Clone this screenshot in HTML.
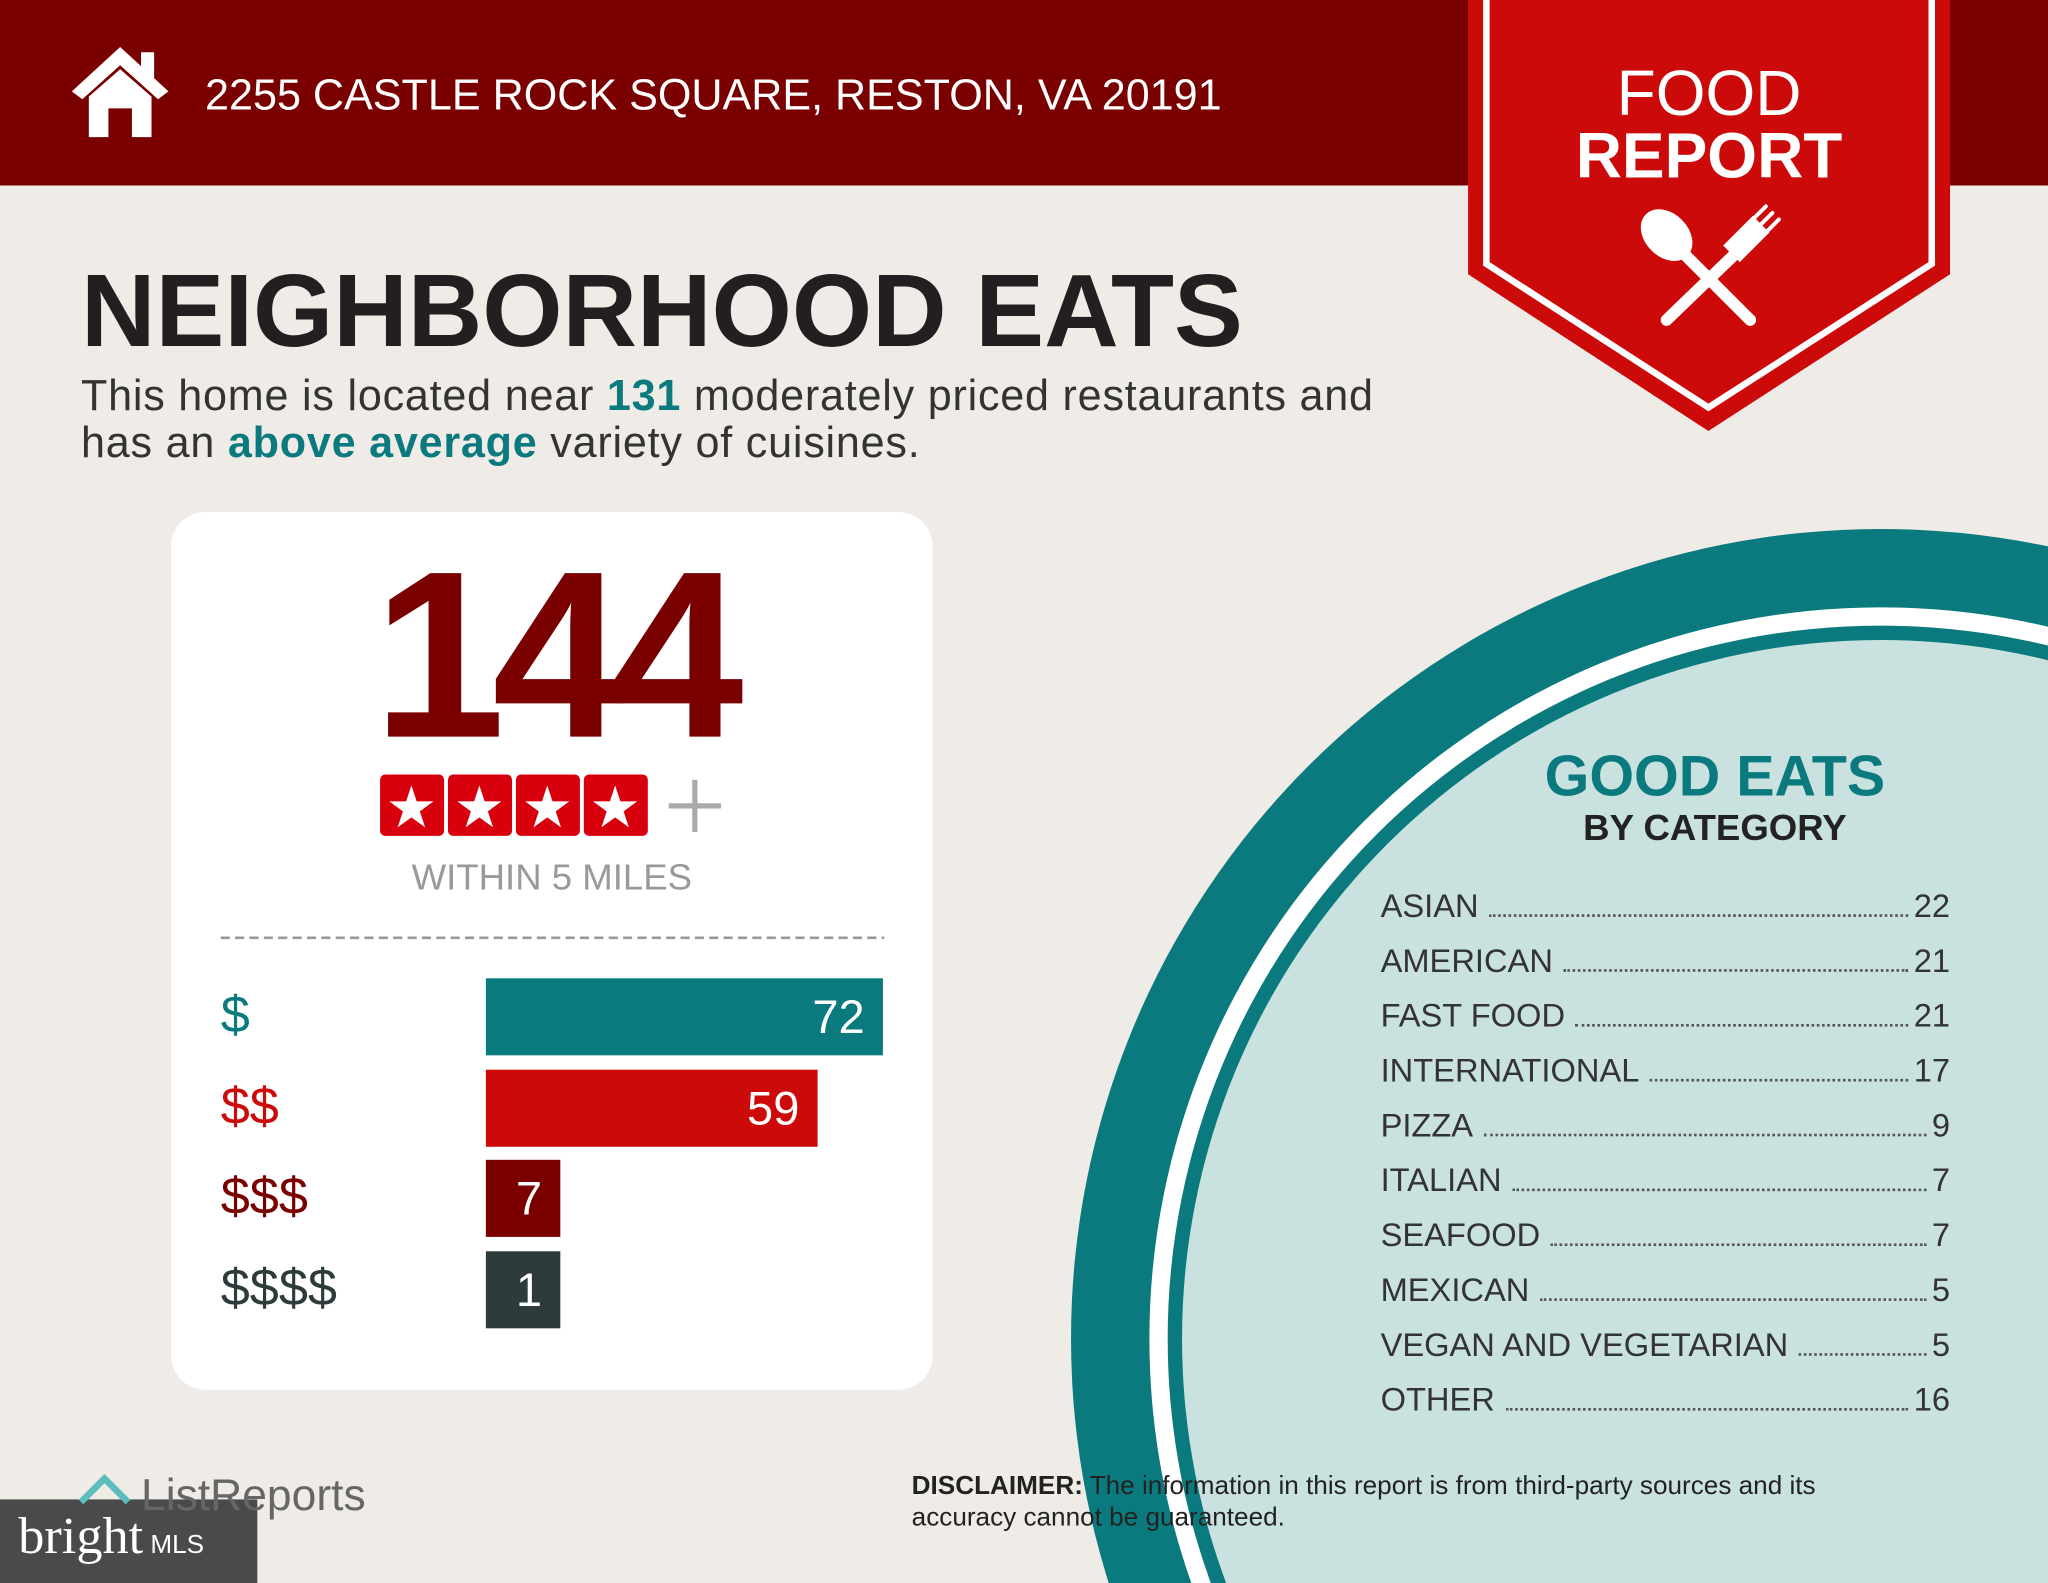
<!DOCTYPE html>
<html><head><meta charset="utf-8"><style>
html,body{margin:0;padding:0;background:#efebe7;overflow:hidden;width:2048px;height:1583px}
#w{width:1568px;height:1212px;position:absolute;left:0;top:0;transform:scale(1.30612);transform-origin:0 0;font-family:"Liberation Sans",sans-serif;overflow:hidden;background:#efebe7}
.a{position:absolute;white-space:nowrap}
.row{position:absolute;left:1057px;width:436px;font-size:25px;color:#333;display:flex;align-items:baseline}
.row .d{flex:1;border-bottom:2px dotted #555;margin:0 4px 0 8px;height:1px}
.bar{position:absolute;left:372px;height:59px;color:#fff;font-size:36px;text-align:right;line-height:59px;box-sizing:border-box;padding-right:14px}
.lab{position:absolute;left:169px;font-size:40px}
</style></head><body><div id="w">
<svg class="a" style="left:0;top:0" width="1568" height="1212">
<circle cx="1440" cy="1025" r="620" fill="#0b7a7e"/>
<circle cx="1440" cy="1025" r="560" fill="#fff"/>
<circle cx="1440" cy="1025" r="546" fill="#0b7a7e"/>
<circle cx="1440" cy="1025" r="535" fill="#c9e1df"/>
<rect x="0" y="0" width="1568" height="142" fill="#7a0000"/>
<polygon points="1124,0 1493,0 1493,210 1308,330 1124,210" fill="#cc0a0a"/>
<polygon points="1138,-5 1479,-5 1479,202 1308,312 1138,202" fill="none" stroke="#fff" stroke-width="5"/>
<g stroke="#fff" stroke-linecap="round" fill="#fff">
<line x1="1285" y1="190" x2="1340" y2="245" stroke-width="9"/>
<ellipse cx="1276" cy="180" rx="16" ry="22" transform="rotate(-45 1276 180)"/>
<line x1="1333" y1="190" x2="1276" y2="245" stroke-width="9"/>
<path d="M1320 188 L1342 166 L1354 178 L1332 200 Z"/>
<line x1="1340" y1="170" x2="1352" y2="158" stroke-width="3"/>
<line x1="1345" y1="175" x2="1357" y2="163" stroke-width="3"/>
<line x1="1350" y1="180" x2="1362" y2="168" stroke-width="3"/>
</g>
<polygon points="92,36 55,70 63,76 92,50 121,76 129,70" fill="#fff"/>
<rect x="108" y="40" width="10" height="20" fill="#fff"/>
<polygon points="68,74 92,53 116,74 116,105 101,105 101,83 83,83 83,105 68,105" fill="#fff"/>
<rect x="131" y="392" width="583" height="672" rx="26" fill="#fff"/>
<line x1="169" y1="718" x2="677" y2="718" stroke="#999" stroke-width="2" stroke-dasharray="7,4"/>
<g fill="#d9000d"><rect x="291" y="593" width="49" height="47" rx="4"/><rect x="343" y="593" width="49" height="47" rx="4"/><rect x="395" y="593" width="49" height="47" rx="4"/><rect x="447" y="593" width="49" height="47" rx="4"/></g>
<g fill="#fff" font-size="44" font-family="DejaVu Sans" text-anchor="middle"><text x="315" y="633">★</text><text x="367" y="633">★</text><text x="419" y="633">★</text><text x="471" y="633">★</text></g>
<g stroke="#aaa" stroke-width="4"><line x1="532" y1="597" x2="532" y2="637"/><line x1="512" y1="617" x2="552" y2="617"/></g>
<rect x="0" y="1148" width="197" height="64" fill="#4a4a4a"/>
<path d="M62 1150 L80 1132 L98 1150" fill="none" stroke="#5bbdbd" stroke-width="5"/>
</svg>
<div class="a" style="left:157px;top:54px;font-size:33px;color:#fff">2255 CASTLE ROCK SQUARE, RESTON, VA 20191</div>
<div class="a" style="left:1124px;width:369px;text-align:center;top:48px;font-size:49px;line-height:48px;color:#fff">FOOD<br><b>REPORT</b></div>
<div class="a" style="left:62px;top:192px;font-size:79px;font-weight:bold;color:#231f20">NEIGHBORHOOD EATS</div>
<div class="a" style="left:62px;top:285px;font-size:33px;line-height:36px;color:#333;letter-spacing:0.6px">This home is located near <b style="color:#0b7a7e">131</b> moderately priced restaurants and<br>has an <b style="color:#0b7a7e">above average</b> variety of cuisines.</div>
<div class="a" style="left:131px;width:583px;text-align:center;top:396px;font-size:182px;font-weight:bold;color:#7a0000;letter-spacing:-10px">144</div>
<div class="a" style="left:131px;width:583px;text-align:center;top:656px;font-size:28px;color:#999">WITHIN 5 MILES</div>
<div class="lab" style="top:755px;color:#0b7a7e">$</div>
<div class="lab" style="top:825px;color:#cc0a0a">$$</div>
<div class="lab" style="top:894px;color:#7a0000">$$$</div>
<div class="lab" style="top:964px;color:#2e3b3b">$$$$</div>
<div class="bar" style="top:749px;width:304px;background:#0b7a7e">72</div>
<div class="bar" style="top:819px;width:254px;background:#cc0a0a">59</div>
<div class="bar" style="top:888px;width:57px;background:#7a0000">7</div>
<div class="bar" style="top:958px;width:57px;background:#2e3b3b">1</div>
<div class="a" style="left:1113px;width:400px;text-align:center;top:570px;font-size:44px;font-weight:bold;color:#0b7a7e">GOOD EATS</div>
<div class="a" style="left:1113px;width:400px;text-align:center;top:618px;font-size:28px;font-weight:bold;color:#222">BY CATEGORY</div>
<div class="row" style="top:680px"><span>ASIAN</span><span class="d"></span><span>22</span></div>
<div class="row" style="top:722px"><span>AMERICAN</span><span class="d"></span><span>21</span></div>
<div class="row" style="top:764px"><span>FAST FOOD</span><span class="d"></span><span>21</span></div>
<div class="row" style="top:806px"><span>INTERNATIONAL</span><span class="d"></span><span>17</span></div>
<div class="row" style="top:848px"><span>PIZZA</span><span class="d"></span><span>9</span></div>
<div class="row" style="top:890px"><span>ITALIAN</span><span class="d"></span><span>7</span></div>
<div class="row" style="top:932px"><span>SEAFOOD</span><span class="d"></span><span>7</span></div>
<div class="row" style="top:974px"><span>MEXICAN</span><span class="d"></span><span>5</span></div>
<div class="row" style="top:1016px"><span>VEGAN AND VEGETARIAN</span><span class="d"></span><span>5</span></div>
<div class="row" style="top:1058px"><span>OTHER</span><span class="d"></span><span>16</span></div>
<div class="a" style="left:698px;top:1126px;font-size:20px;line-height:24px;color:#222"><b>DISCLAIMER:</b> The information in this report is from third-party sources and its<br>accuracy cannot be guaranteed.</div>
<div class="a" style="left:108px;top:1126px;font-size:34px;color:#666">ListReports</div>
<div class="a" style="left:14px;top:1152px;font-size:40px;color:#fff;font-family:'Liberation Serif',serif">bright<span style="font-family:'Liberation Sans';font-size:20px"> MLS</span></div>
</div></body></html>
